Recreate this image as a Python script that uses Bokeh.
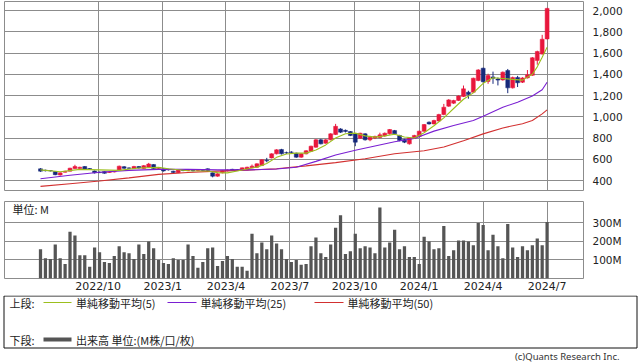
import pandas as pd
from bokeh.plotting import figure
from bokeh.layouts import column, row
from bokeh.models import (Range1d, FixedTicker, NumeralTickFormatter, PrintfTickFormatter,
                          DatetimeTickFormatter)
from bokeh.embed import file_html
from bokeh.resources import INLINE
from bokeh.core.properties import value

# ---------------- data ----------------
start_date = "2022-07-11"
n_weeks = 104
dates = list(pd.date_range(start_date, periods=n_weeks, freq="7D"))

opens = [510, 497, 494, 485, 452, 478, 488, 512, 512, 532, 512, 490, 478, 484, 476, 480, 497, 530, 518, 512,
         532, 512, 525, 550, 512, 510, 505, 488, 474, 496, 494, 496, 494, 496, 510, 472, 441, 472, 490, 505,
         502, 494, 500, 520, 525, 541, 590, 613, 651, 692, 662, 668, 657, 620, 651, 675, 714, 783, 751, 783,
         833, 886, 872, 861, 839, 798, 839, 783, 800, 805, 820, 839, 870, 824, 786, 745, 798, 814, 864, 949,
         933, 960, 1021, 1100, 1128, 1153, 1191, 1231, 1231, 1341, 1457, 1332, 1375, 1355, 1347, 1435, 1272, 1370, 1325, 1366,
         1390, 1530, 1590, 1733]
closes = [488, 492, 490, 455, 472, 486, 516, 532, 525, 508, 506, 472, 474, 468, 481, 486, 535, 515, 516, 532,
          518, 540, 555, 512, 520, 490, 500, 476, 498, 494, 496, 492, 496, 494, 494, 441, 463, 494, 498, 498,
          500, 519, 525, 535, 557, 595, 585, 651, 689, 651, 660, 665, 620, 651, 680, 723, 783, 745, 783, 839,
          910, 855, 862, 824, 761, 845, 783, 808, 815, 830, 845, 880, 839, 776, 761, 802, 824, 864, 927, 933,
          965, 1021, 1090, 1159, 1153, 1195, 1263, 1209, 1363, 1441, 1330, 1388, 1362, 1345, 1420, 1272, 1370, 1320, 1366, 1395,
          1555, 1614, 1730, 2020]
highs = [516, 502, 498, 488, 476, 492, 520, 548, 530, 536, 516, 494, 484, 488, 486, 490, 540, 536, 524, 538,
         536, 546, 566, 554, 526, 514, 510, 492, 502, 502, 502, 500, 502, 500, 514, 476, 468, 498, 504, 510,
         508, 522, 530, 550, 562, 600, 613, 656, 694, 698, 672, 676, 662, 656, 686, 728, 790, 792, 790, 845,
         933, 892, 880, 866, 845, 850, 845, 820, 822, 850, 852, 885, 876, 830, 792, 808, 830, 870, 932, 956,
         972, 1028, 1121, 1166, 1160, 1202, 1294, 1245, 1368, 1448, 1462, 1405, 1425, 1370, 1426, 1450, 1378, 1385, 1372, 1440,
         1562, 1622, 1771, 2025]
lows = [482, 486, 485, 450, 446, 474, 485, 508, 506, 504, 500, 466, 470, 464, 472, 476, 494, 510, 510, 508,
        512, 508, 520, 506, 506, 484, 494, 470, 470, 488, 488, 486, 488, 488, 490, 430, 436, 468, 486, 494,
        496, 490, 496, 516, 520, 536, 572, 608, 646, 645, 650, 656, 614, 614, 646, 670, 708, 740, 746, 778,
        828, 848, 852, 818, 723, 792, 776, 770, 790, 798, 812, 832, 832, 770, 752, 738, 792, 808, 858, 926,
        928, 954, 1015, 1094, 1120, 1148, 1186, 1170, 1226, 1335, 1320, 1310, 1310, 1295, 1340, 1222, 1266, 1280, 1318, 1360,
        1385, 1490, 1585, 1728]
volume_m = [158, 110, 105, 184, 110, 79, 253, 232, 126, 126, 63, 168, 142, 89, 84, 121, 174, 142, 137, 105,
            184, 132, 200, 163, 100, 84, 79, 110, 100, 100, 184, 121, 58, 89, 163, 168, 68, 95, 121, 105,
            63, 63, 42, 242, 137, 195, 158, 232, 189, 158, 105, 89, 100, 74, 79,
            174, 221, 137, 116, 184, 274, 342, 132, 147, 242, 163, 174, 168, 137, 384, 168, 195, 263, 158, 174,
            116, 116, 79, 226, 200, 158, 163, 284, 121, 153, 205, 205, 200, 179, 300, 289, 153, 237, 174, 110,
            295, 168, 116, 174, 153, 179, 216, 179, 305]

ma5_bar = [0, 4, 8, 12, 16, 20, 24, 26, 30, 34, 36, 38, 40, 42, 44, 46, 48, 50, 52, 54, 56, 58, 60, 62, 64,
           66, 68, 70, 72, 74, 76, 78, 80, 82, 84, 86, 88, 90, 92, 94, 96, 98, 100, 101, 102, 103]
ma5_val = [500, 483, 505, 500, 495, 518, 524, 510, 492, 490, 474, 472, 490, 508, 526, 560, 618, 650, 658, 658,
           688, 735, 800, 840, 846, 820, 808, 820, 836, 810, 800, 850, 915, 990, 1078, 1165, 1225, 1315, 1368,
           1360, 1352, 1345, 1400, 1470, 1560, 1655]
ma25_bar = [0, 6, 12, 18, 24, 30, 36, 42, 48, 52, 56, 60, 64, 68, 72, 76, 80, 84, 88, 90, 94, 97, 100, 102, 103]
ma25_val = [416, 450, 478, 495, 505, 505, 500, 500, 508, 525, 580, 640, 685, 725, 765, 795, 865, 918, 965,
            1005, 1090, 1137, 1195, 1255, 1325]
ma50_bar = [0, 6, 12, 18, 24, 30, 36, 42, 48, 54, 60, 66, 72, 78, 82, 86, 90, 94, 98, 100, 102, 103]
ma50_val = [345, 370, 395, 425, 458, 476, 488, 498, 510, 538, 568, 605, 652, 680, 715, 775, 839, 895, 935,
            965, 1027, 1065]

tick_months = ["2022-10-01", "2023-01-01", "2023-04-01", "2023-07-01",
               "2023-10-01", "2024-01-01", "2024-04-01", "2024-07-01"]
tick_labels = ["2022/10", "2023/1", "2023/4", "2023/7", "2023/10", "2024/1", "2024/4", "2024/7"]
price_ticks = [400, 600, 800, 1000, 1200, 1400, 1600, 1800, 2000]
volume_ticks = [100, 200, 300]

legend_head_top = "上段:"
legend_head_bottom = "下段:"
legend_labels = ["単純移動平均(5)", "単純移動平均(25)", "単純移動平均(50)"]
volume_legend = "出来高 単位:(M株/口/枚)"
volume_unit = "単位: M"
credit = "(c)Quants Research Inc."

# ---------------- styling ----------------
UP = "#e8173c"
DOWN = "#16287a"
MA_COLORS = ["#9cbf1e", "#7a1fd2", "#d23030"]
VOL = "#555555"
GRID = "#8c8c8c"
JP = "Noto Sans CJK JP"
NUM = "DejaVu Sans"

W = 638
WEEK = 7 * 24 * 3600 * 1000
ms0 = dates[0].value / 1e6
xr = Range1d(start=ms0 - 7.32 * WEEK, end=ms0 + 110.4 * WEEK)
tick_ms = [pd.Timestamp(t).value / 1e6 for t in tick_months]
xticker = FixedTicker(ticks=tick_ms)


def style_axis(ax, size):
    ax.axis_line_color = None
    ax.major_tick_line_color = None
    ax.minor_tick_line_color = None
    ax.major_tick_out = 0
    ax.major_tick_in = 0
    ax.minor_tick_out = 0
    ax.minor_tick_in = 0
    ax.major_label_text_font = NUM
    ax.major_label_text_font_size = size
    ax.major_label_text_color = "#222222"


# ---------------- price chart ----------------
p = figure(width=W, height=195, x_axis_type="datetime", x_axis_location=None, y_axis_location="right",
           x_range=xr, y_range=Range1d(306, 2085), output_backend="svg", toolbar_location=None,
           min_border_left=4, min_border_right=55, min_border_top=1, min_border_bottom=5)
p.outline_line_color = GRID
p.xgrid.ticker = xticker
p.grid.grid_line_color = GRID
p.grid.grid_line_alpha = 1.0
p.yaxis.ticker = FixedTicker(ticks=price_ticks)
p.yaxis.formatter = NumeralTickFormatter(format="0,0")
style_axis(p.yaxis, "10.5px")
p.yaxis.major_label_standoff = 9

colors = [UP if c >= o else DOWN for o, c in zip(opens, closes)]
tops = [max(o, c) for o, c in zip(opens, closes)]
bots = [min(o, c) for o, c in zip(opens, closes)]
p.segment(x0=dates, y0=lows, x1=dates, y1=highs, color=colors, line_width=1)
p.vbar(x=dates, width=0.8 * WEEK, top=tops, bottom=bots, fill_color=colors, line_color=colors, line_width=0.5)

for bars, vals, col in [(ma50_bar, ma50_val, MA_COLORS[2]), (ma25_bar, ma25_val, MA_COLORS[1]),
                        (ma5_bar, ma5_val, MA_COLORS[0])]:
    p.line(x=[dates[i] for i in bars], y=vals, line_color=col, line_width=1.1)

# ---------------- volume chart ----------------
VMAX = 416
v = figure(width=W, height=100, x_axis_type="datetime", y_axis_location="right",
           x_range=xr, y_range=Range1d(0, VMAX), output_backend="svg", toolbar_location=None,
           min_border_left=4, min_border_right=55, min_border_top=6, min_border_bottom=15)
v.outline_line_color = GRID
v.grid.grid_line_color = GRID
v.grid.grid_line_alpha = 1.0
v.xgrid.ticker = xticker
v.xaxis.ticker = xticker
v.xaxis.formatter = DatetimeTickFormatter(days="%Y/%-m", months="%Y/%-m", years="%Y/%-m")
v.xaxis.major_label_overrides = {t: lab for t, lab in zip(tick_ms, tick_labels)}
style_axis(v.xaxis, "11px")
v.xaxis.major_label_standoff = 1
v.yaxis.ticker = FixedTicker(ticks=volume_ticks)
v.yaxis.formatter = PrintfTickFormatter(format="%dM")
style_axis(v.yaxis, "10.5px")
v.yaxis.major_label_standoff = 9
v.vbar(x=dates, width=0.66 * WEEK, top=volume_m, bottom=0, fill_color=VOL, line_color=None)
v.text(x=[ms0 - 5.7 * WEEK], y=[VMAX * 71 / 79], text=[volume_unit], text_font=value(JP),
       text_font_size="11px", text_baseline="middle", text_color="#222222")

# ---------------- legend panel ----------------
LH = 67
lg = figure(width=W, height=LH, x_range=Range1d(0, W), y_range=Range1d(0, LH),
            x_axis_location=None, y_axis_location=None, output_backend="svg", toolbar_location=None,
            min_border=0)
lg.outline_line_color = None
lg.grid.visible = False
lg.quad(left=[3.5], right=[636.5], bottom=[14.5], top=[LH - 0.5], fill_color=None,
        line_color="#111111", line_width=1)
row1, row2 = 60, 23
lg.text(x=[9, 9], y=[row1, row2], text=[legend_head_top, legend_head_bottom],
        text_font=value(JP), text_font_size="11px", text_baseline="middle", text_color="#222222")
for (x0, x1), col in zip([(43, 71), (167, 196), (314, 343)], MA_COLORS):
    lg.line(x=[x0, x1], y=[row1, row1], line_color=col, line_width=1.2)
lg.text(x=[75.5, 200, 347], y=[row1] * 3, text=legend_labels,
        text_font=value(JP), text_font_size="11px", text_baseline="middle", text_color="#222222")
lg.line(x=[43, 71], y=[row2, row2], line_color=VOL, line_width=4)
lg.text(x=[75.5], y=[row2], text=[volume_legend],
        text_font=value(JP), text_font_size="11px", text_baseline="middle", text_color="#222222")
lg.text(x=[619], y=[6], text=[credit], text_font=value("Noto Sans"), text_font_size="9.5px",
        text_align="right", text_baseline="middle", text_color="#333333")

layout = column(p, v, row(lg), spacing=0)
open("out.html", "w").write(file_html(layout, INLINE))
